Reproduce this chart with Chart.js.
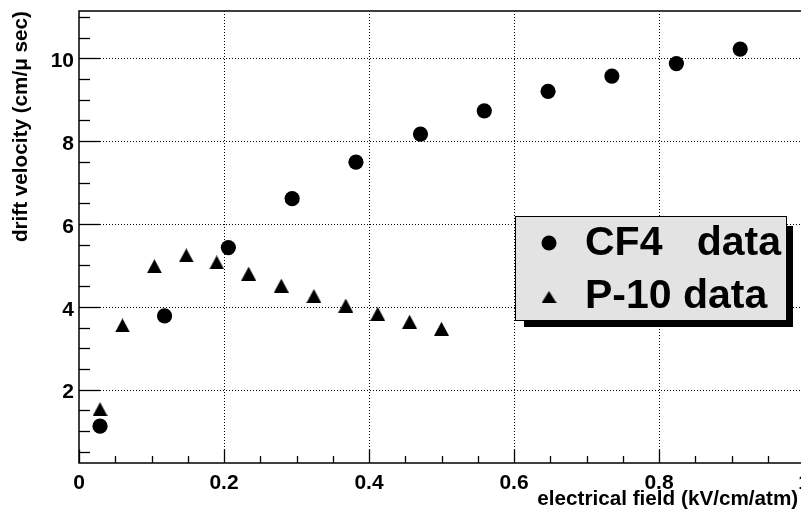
<!DOCTYPE html>
<html><head><meta charset="utf-8">
<script src="https://cdn.jsdelivr.net/npm/chart.js@4/dist/chart.umd.min.js"></script>
<style>
html,body{margin:0;padding:0;background:#fff;overflow:hidden;}
#wrap{width:801px;height:513px;overflow:hidden;position:relative;background:#fff;}
canvas{display:block;}
</style></head><body>
<div id="wrap"><canvas id="c" width="812" height="513" style="width:812px;height:513px"></canvas></div>
<script>
// ---- data ----
const cf4Field    = [0.029, 0.118, 0.206, 0.294, 0.382, 0.471, 0.559, 0.647, 0.735, 0.824, 0.912];
const cf4Velocity = [1.12, 3.78, 5.43, 6.61, 7.49, 8.17, 8.73, 9.20, 9.57, 9.87, 10.22];
const p10Field    = [0.029, 0.060, 0.104, 0.148, 0.190, 0.234, 0.279, 0.324, 0.368, 0.412, 0.456, 0.500];
const p10Velocity = [1.53, 3.55, 4.98, 5.24, 5.07, 4.80, 4.51, 4.26, 4.03, 3.83, 3.64, 3.47];
const seriesLabels = ['CF4   data', 'P-10 data'];
const xMajorTicks = [0, 0.2, 0.4, 0.6, 0.8, 1.0];
const xTickLabels = ['0', '0.2', '0.4', '0.6', '0.8', '1'];
const yMajorTicks = [2, 4, 6, 8, 10];
const yTickLabels = ['2', '4', '6', '8', '10'];
const xTitle = 'electrical field (kV/cm/atm) ';
const yTitle = 'drift velocity (cm/\u03bc sec)';

const FONT = '"Liberation Sans", Arial, Helvetica, sans-serif';
const xRange = {min: 0, max: 1.0, minor: 0.05};
const yRange = {min: 0.23, max: 11.14, minor: 0.5};

function triImg(w, h) {
  const c = document.createElement('canvas');
  c.width = w; c.height = h;
  const g = c.getContext('2d');
  g.fillStyle = '#000';
  g.beginPath(); g.moveTo(w / 2, 0); g.lineTo(w, h); g.lineTo(0, h); g.closePath(); g.fill();
  return c;
}
const triangle = triImg(15, 14);
const legendTriangle = triImg(15, 12);

function makeTicks(min, max, step) {
  const t = [];
  const n0 = Math.ceil(min / step - 1e-9), n1 = Math.floor(max / step + 1e-9);
  for (let i = n0; i <= n1; i++) t.push({value: +(i * step).toFixed(6)});
  return t;
}
function majorIndex(list, v) {
  return list.findIndex(m => Math.abs(m - v) < 1e-6);
}

const rootFrame = {
  id: 'rootFrame',
  beforeDatasetsDraw(chart) {
    const {ctx, chartArea: a, scales: {x, y}} = chart;
    const line = (x1, y1, x2, y2) => { ctx.beginPath(); ctx.moveTo(x1, y1); ctx.lineTo(x2, y2); ctx.stroke(); };
    ctx.save();
    ctx.strokeStyle = '#000';
    ctx.lineWidth = 1;
    ctx.setLineDash([1, 2]);
    xMajorTicks.forEach(v => {
      if (v <= x.min || v >= x.max) return;
      const px = Math.round(x.getPixelForValue(v)) + 0.5;
      line(px, a.top, px, a.bottom);
    });
    yMajorTicks.forEach(v => {
      if (v <= y.min || v >= y.max) return;
      const py = Math.round(y.getPixelForValue(v)) + 0.5;
      line(a.left, py, a.right, py);
    });
    ctx.setLineDash([]);
    ctx.lineWidth = 1.3;
    x.ticks.forEach(t => {
      const len = majorIndex(xMajorTicks, t.value) >= 0 ? 13.5 : 7;
      const px = Math.round(x.getPixelForValue(t.value)) + 0.5;
      line(px, a.bottom, px, a.bottom - len);
    });
    y.ticks.forEach(t => {
      const len = majorIndex(yMajorTicks, t.value) >= 0 ? 21 : 11;
      const py = Math.round(y.getPixelForValue(t.value)) + 0.5;
      line(a.left, py, a.left + len, py);
    });
    ctx.lineWidth = 1.5;
    ctx.strokeRect(a.left, a.top, a.right - a.left, a.bottom - a.top);
    ctx.restore();
  },
  afterDraw(chart) {
    const ctx = chart.ctx;
    const ds = chart.data.datasets;
    ctx.save();
    ctx.fillStyle = '#000';
    ctx.fillRect(524, 226, 269, 101);
    ctx.fillStyle = '#e3e3e3';
    ctx.fillRect(515, 216, 272, 105);
    ctx.strokeStyle = '#000';
    ctx.lineWidth = 1;
    ctx.strokeRect(515.5, 216.5, 271, 104);
    ctx.fillStyle = '#000';
    ctx.beginPath(); ctx.arc(549, 243, 7.5, 0, Math.PI * 2); ctx.fill();
    ctx.drawImage(legendTriangle, 549 - 7.5, 297 - 6);
    ctx.font = 'bold 41px ' + FONT;
    ctx.textBaseline = 'alphabetic';
    ctx.textAlign = 'left';
    ctx.fillText(ds[0].label, 585, 255);
    ctx.fillText(ds[1].label, 585, 308);
    ctx.restore();
  }
};

new Chart(document.getElementById('c'), {
  type: 'scatter',
  data: {
    datasets: [
      {
        label: seriesLabels[0],
        data: cf4Field.map((v, i) => ({x: v, y: cf4Velocity[i]})),
        pointStyle: 'circle', pointRadius: 7.6, pointHoverRadius: 7.6,
        backgroundColor: '#000', borderColor: '#000', borderWidth: 0
      },
      {
        label: seriesLabels[1],
        data: p10Field.map((v, i) => ({x: v, y: p10Velocity[i]})),
        pointStyle: triangle, pointRadius: 8, pointHoverRadius: 8,
        backgroundColor: '#000', borderColor: '#000', borderWidth: 0
      }
    ]
  },
  options: {
    responsive: false,
    animation: false,
    events: [],
    devicePixelRatio: 1,
    layout: {padding: {left: 0, top: 11, right: 7.5, bottom: 0}},
    plugins: {legend: {display: false}, tooltip: {enabled: false}},
    scales: {
      x: {
        type: 'linear', position: 'bottom',
        min: xRange.min, max: xRange.max,
        afterFit(s) { s.height = 50; s.paddingLeft = 0; s.paddingRight = 0; s.paddingTop = 0; s.paddingBottom = 0; },
        afterBuildTicks(s) { s.ticks = makeTicks(xRange.min, xRange.max, xRange.minor); },
        grid: {display: false, drawTicks: false},
        border: {display: false},
        ticks: {
          autoSkip: false, maxRotation: 0, minRotation: 0, padding: 8,
          color: '#000', font: {family: FONT, size: 21, weight: 'bold'},
          callback(v) { const i = majorIndex(xMajorTicks, v); return i >= 0 ? xTickLabels[i] : ''; }
        },
        title: {
          display: true, text: xTitle, align: 'end', color: '#000',
          font: {family: FONT, size: 20.7, weight: 'bold'}, padding: {top: 0, bottom: 1}
        }
      },
      y: {
        type: 'linear', position: 'left',
        min: yRange.min, max: yRange.max,
        afterFit(s) { s.width = 79; s.paddingLeft = 0; s.paddingRight = 0; s.paddingTop = 0; s.paddingBottom = 0; },
        afterBuildTicks(s) { s.ticks = makeTicks(yRange.min, yRange.max, yRange.minor); },
        grid: {display: false, drawTicks: false},
        border: {display: false},
        ticks: {
          autoSkip: false, padding: 5, labelOffset: 3,
          color: '#000', font: {family: FONT, size: 21, weight: 'bold'},
          callback(v) { const i = majorIndex(yMajorTicks, v); return i >= 0 ? yTickLabels[i] : ''; }
        },
        title: {
          display: true, text: yTitle, align: 'end', color: '#000',
          font: {family: FONT, size: 20.7, weight: 'bold'}, padding: {top: 8.5, bottom: 0}
        }
      }
    }
  },
  plugins: [rootFrame]
});
</script>
</body></html>
